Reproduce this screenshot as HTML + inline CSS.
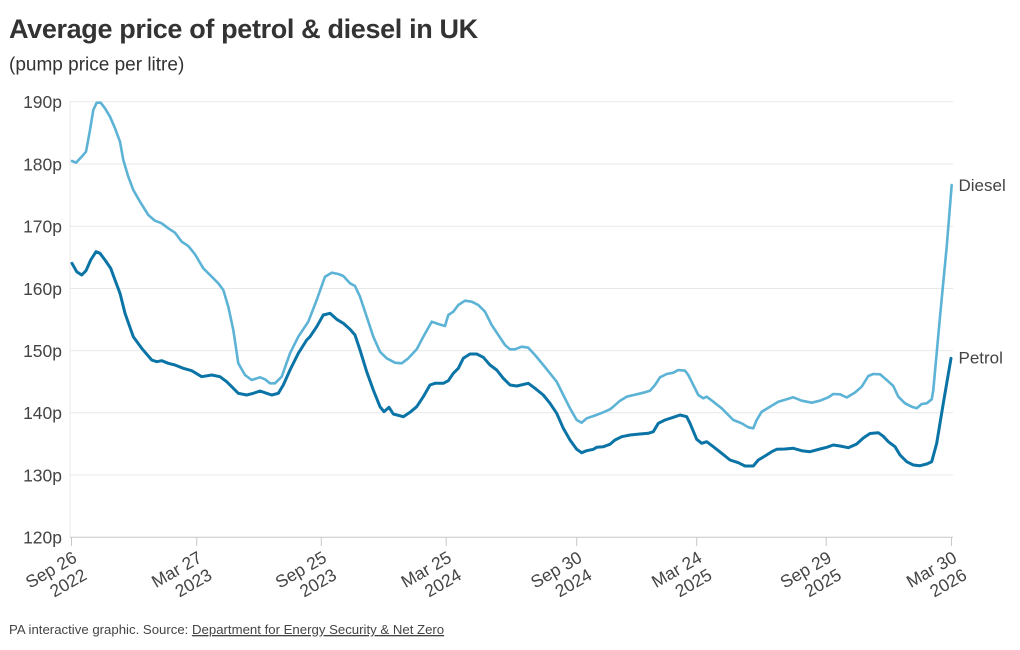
<!DOCTYPE html>
<html>
<head>
<meta charset="utf-8">
<style>
  html, body { margin:0; padding:0; background:#fff; }
  svg { display:block; }
  text { font-family: "Liberation Sans", Arial, sans-serif; }
</style>
</head>
<body>
<svg width="1020" height="650" viewBox="0 0 1020 650" xmlns="http://www.w3.org/2000/svg">
  <rect width="1020" height="650" fill="#fff"/>
  <!-- Title -->
  <text x="9" y="38" font-size="27" font-weight="bold" fill="#333" letter-spacing="-0.35">Average price of petrol &amp; diesel in UK</text>
  <text x="9" y="70.5" font-size="19" fill="#333">(pump price per litre)</text>

  <!-- gridlines -->
  <g stroke="#e8e8e8" stroke-width="1">
    <line x1="70" y1="101.7" x2="953" y2="101.7"/>
    <line x1="70" y1="164" x2="953" y2="164"/>
    <line x1="70" y1="226.2" x2="953" y2="226.2"/>
    <line x1="70" y1="288.5" x2="953" y2="288.5"/>
    <line x1="70" y1="350.6" x2="953" y2="350.6"/>
    <line x1="70" y1="412.8" x2="953" y2="412.8"/>
    <line x1="70" y1="475" x2="953" y2="475"/>
    <line x1="70" y1="101.7" x2="70" y2="537.3"/>
  </g>
  <!-- x axis -->
  <g stroke="#c8c8c8" stroke-width="1">
    <line x1="70" y1="537.3" x2="953" y2="537.3"/>
    <line x1="71.5" y1="537" x2="71.5" y2="546"/>
    <line x1="196.7" y1="537" x2="196.7" y2="546"/>
    <line x1="321.3" y1="537" x2="321.3" y2="546"/>
    <line x1="446.2" y1="537" x2="446.2" y2="546"/>
    <line x1="576.7" y1="537" x2="576.7" y2="546"/>
    <line x1="696.7" y1="537" x2="696.7" y2="546"/>
    <line x1="826.2" y1="537" x2="826.2" y2="546"/>
    <line x1="951.5" y1="537" x2="951.5" y2="546"/>
  </g>

  <!-- y labels -->
  <g font-size="17.5" fill="#444" text-anchor="end">
    <text x="62" y="108">190p</text>
    <text x="62" y="170.3">180p</text>
    <text x="62" y="232.5">170p</text>
    <text x="62" y="294.8">160p</text>
    <text x="62" y="357">150p</text>
    <text x="62" y="419.2">140p</text>
    <text x="62" y="481.4">130p</text>
    <text x="62" y="543.6">120p</text>
  </g>

  <!-- x labels -->
  <g font-size="17.5" fill="#444" text-anchor="end">
    <text transform="translate(78,561) rotate(-30)"><tspan x="0" y="0">Sep 26</tspan><tspan x="0" y="20">2022</tspan></text>
    <text transform="translate(203.2,561) rotate(-30)"><tspan x="0" y="0">Mar 27</tspan><tspan x="0" y="20">2023</tspan></text>
    <text transform="translate(327.8,561) rotate(-30)"><tspan x="0" y="0">Sep 25</tspan><tspan x="0" y="20">2023</tspan></text>
    <text transform="translate(452.7,561) rotate(-30)"><tspan x="0" y="0">Mar 25</tspan><tspan x="0" y="20">2024</tspan></text>
    <text transform="translate(583.2,561) rotate(-30)"><tspan x="0" y="0">Sep 30</tspan><tspan x="0" y="20">2024</tspan></text>
    <text transform="translate(703.2,561) rotate(-30)"><tspan x="0" y="0">Mar 24</tspan><tspan x="0" y="20">2025</tspan></text>
    <text transform="translate(832.7,561) rotate(-30)"><tspan x="0" y="0">Sep 29</tspan><tspan x="0" y="20">2025</tspan></text>
    <text transform="translate(958,561) rotate(-30)"><tspan x="0" y="0">Mar 30</tspan><tspan x="0" y="20">2026</tspan></text>
  </g>

  <!-- Diesel -->
  <polyline fill="none" stroke="#5cb3d6" stroke-width="2.6" stroke-linejoin="round" stroke-linecap="round" points="
72,161 76,162.7 81.7,156.7 86,151.7 90,130 93.3,110 96.7,102.7 100.7,102.7 105,108.3 110,116.7 115,128.3 120,141.7 123.3,160 128.3,176.7 133.3,190 140,201.7 148.3,215 155,220.7 161.7,223.3 168.3,228.3 175,232.7 181.7,241.7 188.3,246 195,254.3 203.3,268.3 211.7,276.7 218.3,283.3 223.3,290 228.3,306.7 233.3,330 238.3,363.3 245,375 251.7,380 260,377.3 265,379.3 270,383.3 275,383.3 281.7,376.7 290,353.3 298.3,336.7 308.3,321.7 316.7,300 325,276.7 331.7,272.7 338.3,274 343.3,276 350,283.3 355,286 360,296.7 366.7,316.7 373.3,336.7 380,351.7 386.7,358.3 395,362.7 401.7,363.3 408.3,358.3 416.7,349.3 423.3,336.7 431.7,321.7 438.3,324 445,326 448.3,315 453.3,311.7 458.3,305 465,300.7 471.7,301.7 478.3,305 485,311.7 491.7,325 498.3,335 505,345 510,349.3 515,349.3 521.7,346.7 528.3,347.7 535,355 543.3,365 550,373.3 556.7,381.7 563.3,395 570,408.3 576.7,420 581.7,422.7 586.7,418.3 595,415.5 603.3,412.3 610,409.3 613.3,406.7 620,400.7 626.7,396.7 636.7,394.3 643.3,392.7 650,390.7 655,385 660,377.3 666.7,374 673.3,372.7 678.3,370 685,370.7 688.3,375 693.3,385 698.3,395 703.3,398.3 706.7,396.7 713.3,401.7 721.7,408.3 728.3,415 733.3,420 741.7,423.3 748.3,427.3 753.3,428.3 756.7,420 761.7,411.7 770,406.7 778.3,401.7 786.7,399.3 793.3,397.3 801.7,400.7 811.7,402.7 820,400.7 828.3,397.3 833.3,394 840,394.3 846.7,397.5 855,392.5 861.7,386.7 868.3,376 873.3,374 880,374.3 886.7,380 893.3,386 898.3,396.7 905,403.3 911.7,406.7 916.7,408.3 921.7,404 926.7,403.3 931.7,399.3 933.3,390 940,316.7 946.7,246.7 951.7,185"/>

  <!-- Petrol -->
  <polyline fill="none" stroke="#0b74a6" stroke-width="3" stroke-linejoin="round" stroke-linecap="round" points="
72,263.3 76.7,271.7 81.7,275 86,270.7 90.7,260 96,251.7 100,253.3 105,260 110.7,268.3 115,280 120,293.3 125,313.3 133.3,336.7 141.7,348.3 151.7,360 156.7,361.7 161.7,360.7 168.3,363.3 175,365 183.3,368.3 191.7,370.7 201.7,376.7 211.7,375 220,376.7 226.7,381.7 231.7,386.7 238.3,393.3 246.7,395 253.3,393.3 260,391 266.7,393.3 271.7,395 278.3,393.3 283.3,385 290,370 298.3,353.3 306.7,340 310,336.7 316.7,326.7 323.3,315 330,313.3 336.7,319.3 343.3,323.3 350,329.3 355,335 360,350 366.7,371.7 373.3,390 380,406.7 384,411.7 389,407.3 393.3,414 403.3,416.7 410,412.3 416.7,406.7 423.3,396.7 430,385 435,383.3 443.3,383.3 448.3,380.7 453.3,373.3 458.3,368.3 463.3,358.3 470,354 476.7,354 483.3,357.3 490,365 496.7,370 503.3,378.3 510,385 516.7,386 528.3,383.3 535,388.3 543.3,395 550,403.3 556.7,413.3 563.3,428.3 570,440 576.7,449.3 581.7,452.7 586.7,450.7 593.3,449.3 596.7,447.3 603.3,446.7 610,444.3 615,440 621.7,436.7 630,435 640,434 648.3,433.3 653.3,431.7 658.3,423.3 665,420 673.3,417.3 680,415 686.7,416.7 690,423.3 696.7,439.3 701.7,443.3 706.7,441.7 713.3,446.7 721.7,453.3 730,460 738.3,462.7 745,466 753.3,466 758.3,460 765,456 771.7,451.7 776.7,449.3 785,449 793.3,448.3 801.7,450.7 810,451.7 820,449 826.7,447.3 833.3,445 840,446 848.3,447.7 856.7,444 863.3,438 870,433.5 878.3,432.7 883.3,436.3 888.3,441.7 895,446.7 900,455 906.7,461.7 913.3,465 920,465.7 926.7,464 931.7,461.7 936.7,443.3 943.3,403.3 951,358.3"/>

  <!-- series labels -->
  <text x="958.5" y="191" font-size="17" fill="#444">Diesel</text>
  <text x="958.5" y="363.5" font-size="17" fill="#444">Petrol</text>

  <!-- footer -->
  <text x="9" y="634" font-size="13.2" fill="#444">PA interactive graphic. Source: <tspan text-decoration="underline">Department for Energy Security &amp; Net Zero</tspan></text>
</svg>
</body>
</html>
